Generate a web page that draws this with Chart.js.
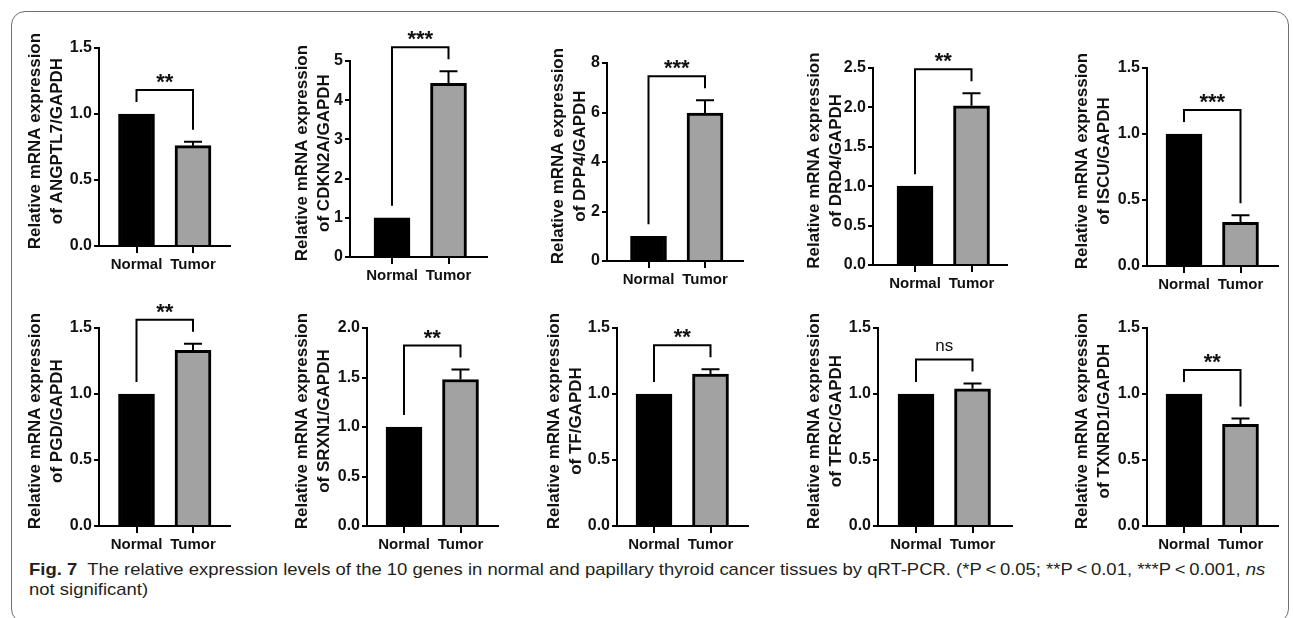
<!DOCTYPE html>
<html>
<head>
<meta charset="utf-8">
<script src="https://cdn.jsdelivr.net/npm/chart.js@4.4.1/dist/chart.umd.min.js"></script>
<style>
  html, body { margin: 0; padding: 0; background: #fff; overflow: hidden; }
  body { width: 1293px; height: 618px; position: relative; }
  .frame { position: absolute; left: 11px; top: 11px; width: 1278px; height: 612px;
           border: 1.5px solid #707070; border-radius: 14px; box-sizing: border-box; }
  canvas { position: absolute; }
  .caption { position: absolute; left: 29px; top: 560px; font-family: "Liberation Sans Narrow", "Liberation Sans", Arial, sans-serif;
             font-size: 17px; line-height: 20px; color: #231f20; }
  .caption span { display: inline-block; white-space: nowrap; transform-origin: 0 0; }
</style>
</head>
<body>
<div class="frame"></div>
<div class="caption">
  <span id="cap1"><b>Fig. 7</b>&nbsp; The relative expression levels of the 10 genes in normal and papillary thyroid cancer tissues by qRT-PCR. (*P&thinsp;&lt;&thinsp;0.05; **P&thinsp;&lt;&thinsp;0.01, ***P&thinsp;&lt;&thinsp;0.001, <i>ns</i></span><br>
  <span id="cap2">not significant)</span>
</div>
<script>
// data
var categories = ["Normal", "Tumor"];
var genes = ["ANGPTL7", "CDKN2A", "DPP4", "DRD4", "ISCU", "PGD", "SRXN1", "TF", "TFRC", "TXNRD1"];
var normalValues = [1, 1, 1, 1, 1, 1, 1, 1, 1, 1];
var tumorValues = [0.76, 4.43, 5.98, 2.02, 0.33, 1.33, 1.48, 1.15, 1.04, 0.77];
var tumorSem = [0.03, 0.31, 0.52, 0.16, 0.055, 0.05, 0.10, 0.037, 0.04, 0.045];
var yMax = [1.5, 5, 8, 2.5, 1.5, 1.5, 2.0, 1.5, 1.5, 1.5];
var yStep = [0.5, 1, 2, 0.5, 0.5, 0.5, 0.5, 0.5, 0.5, 0.5];
var significance = ["**", "***", "***", "**", "***", "**", "**", "**", "ns", "**"];

// panel layout (page pixels)
var axisX = [99, 350, 607, 873, 1147, 99, 367, 617, 878, 1147];
var normalX = [136.5, 392, 648.5, 915, 1184, 136.5, 404, 654, 916, 1184];
var xEnd = [230, 487, 743, 1007, 1278, 230, 498, 748, 1012, 1278];
var yTop = [48, 61, 63, 68, 68, 328, 328, 328, 328, 328];
var yBottom = [246, 257, 261, 265, 266, 526, 526, 526, 526, 526];
var titleX = [35, 302, 558, 814, 1082, 35, 302, 554, 814, 1082];
var barGap = 56.5;
var titleLine = 22;
var fontFamily = "'Liberation Sans', Arial, sans-serif";

var annotations = {
    id: "annot",
    afterDatasetsDraw: function (chart) {
        var i = chart.options.plugins.annot.idx;
        var ctx = chart.ctx, xs = chart.scales.x, ys = chart.scales.y;
        var xn = xs.getPixelForValue(0), xt = xs.getPixelForValue(1);
        var yBar = ys.getPixelForValue(tumorValues[i]);
        var yErr = ys.getPixelForValue(tumorValues[i] + tumorSem[i]);
        ctx.save();
        ctx.strokeStyle = "#000";
        ctx.lineWidth = 2;
        ctx.beginPath();
        ctx.moveTo(xt, yBar);
        ctx.lineTo(xt, yErr);
        ctx.moveTo(xt - 9, yErr);
        ctx.lineTo(xt + 9, yErr);
        ctx.stroke();

        // significance bracket, 12px clear of the bars
        var yl = ys.getPixelForValue(normalValues[i]) - 12;
        var yr = yErr - 12;
        var yb = Math.min(yl, yr) - 12;
        ctx.beginPath();
        ctx.moveTo(xn, yl);
        ctx.lineTo(xn, yb);
        ctx.lineTo(xt, yb);
        ctx.lineTo(xt, yr);
        ctx.stroke();

        ctx.fillStyle = "#111";
        ctx.textAlign = "center";
        ctx.textBaseline = "alphabetic";
        if (significance[i] === "ns") {
            ctx.font = "17px " + fontFamily;
            ctx.fillText("ns", (xn + xt) / 2, yb - 8);
        } else {
            ctx.font = "bold 22px " + fontFamily;
            ctx.fillText(significance[i], (xn + xt) / 2, yb - 1);
        }
        ctx.restore();
    }
};

genes.forEach(function (gene, i) {
    var row = i < 5 ? 0 : 1;
    var top = row === 0 ? 14 : 290;
    var left = Math.round(titleX[i] - titleLine / 2 - 4);
    var width = xEnd[i] - left + 4;
    var xHeight = 40;
    var height = yBottom[i] - top + xHeight;
    var yWidth = axisX[i] - left;

    var canvas = document.createElement("canvas");
    canvas.width = width;
    canvas.height = height;
    canvas.style.left = left + "px";
    canvas.style.top = top + "px";
    canvas.style.width = width + "px";
    canvas.style.height = height + "px";
    document.body.appendChild(canvas);

    var decimals = yStep[i] < 1 ? 1 : 0;
    var xMin = -(normalX[i] - axisX[i]) / barGap;
    var xMax = (xEnd[i] - normalX[i]) / barGap;
    // leading spaces nudge the rotated title a little upwards
    var lead = "\u2002\u2009";

    new Chart(canvas.getContext("2d"), {
        type: "bar",
        data: {
            datasets: [{
                data: [{x: 0, y: normalValues[i]}, {x: 1, y: tumorValues[i]}],
                backgroundColor: ["#000000", "#a2a2a2"],
                borderColor: "#000000",
                borderWidth: 3,
                borderSkipped: "bottom",
                barThickness: 36
            }]
        },
        plugins: [annotations],
        options: {
            responsive: false,
            animation: false,
            devicePixelRatio: 1,
            layout: { padding: { top: yTop[i] - top, right: 4, left: 0, bottom: 0 } },
            plugins: {
                legend: { display: false },
                tooltip: { enabled: false },
                annot: { idx: i }
            },
            scales: {
                x: {
                    type: "linear",
                    offset: false,
                    bounds: "data",
                    min: xMin,
                    max: xMax,
                    afterBuildTicks: function (scale) {
                        scale.ticks = [{value: 0}, {value: 1}];
                    },
                    afterFit: function (scale) { scale.height = xHeight; },
                    ticks: {
                        callback: function (v) { return categories[v]; },
                        color: "#111",
                        padding: 3,
                        maxRotation: 0,
                        autoSkip: false,
                        font: { family: fontFamily, size: 15, weight: "bold" }
                    },
                    grid: { display: true, offset: false, drawOnChartArea: false, drawTicks: true, tickLength: 7, color: "#000", lineWidth: 2 },
                    border: { display: true, color: "#000", width: 2 }
                },
                y: {
                    min: 0,
                    max: yMax[i],
                    afterFit: function (scale) { scale.width = yWidth; },
                    ticks: {
                        stepSize: yStep[i],
                        callback: function (v) { return Number(v).toFixed(decimals); },
                        color: "#111",
                        padding: 2,
                        font: { family: fontFamily, size: 16, weight: "bold" }
                    },
                    grid: { display: true, drawOnChartArea: false, drawTicks: true, tickLength: 5, color: "#000", lineWidth: 2 },
                    border: { display: true, color: "#000", width: 2 },
                    title: {
                        display: true,
                        text: [lead + "Relative mRNA expression", lead + "of " + gene + "/GAPDH"],
                        color: "#111",
                        padding: { top: 4, bottom: 0 },
                        font: { family: fontFamily, size: 17, weight: "bold", lineHeight: titleLine / 17 }
                    }
                }
            }
        }
    });
});

// fit the caption to the width of the original line
var cap1 = document.getElementById("cap1");
var cap2 = document.getElementById("cap2");
var s = 1236 / cap1.offsetWidth;
cap1.style.transform = "scaleX(" + s + ")";
cap2.style.transform = "scaleX(" + s + ")";
</script>
</body>
</html>
